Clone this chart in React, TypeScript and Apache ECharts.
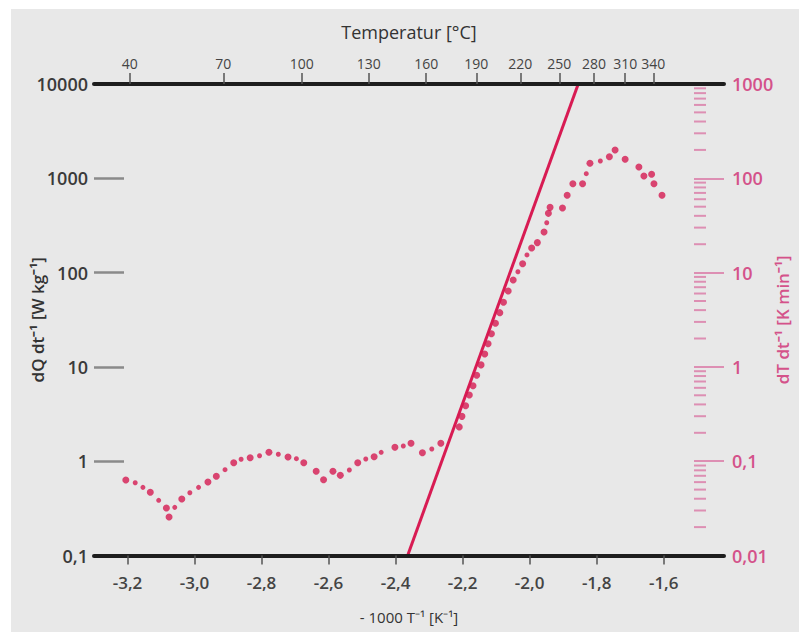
import React, { useEffect, useRef } from "react";
import * as echarts from "echarts";

// -1000/T [1/K] and dQ/dt [W/kg] – larger measurement dots
const largeX = [-3.205, -3.132, -3.084, -3.076, -3.038, -2.960, -2.935, -2.883, -2.834, -2.778, -2.721, -2.674, -2.637, -2.615, -2.587, -2.565, -2.513, -2.464, -2.402, -2.354, -2.320, -2.265, -2.210, -2.202, -2.191, -2.180, -2.169, -2.158, -2.145, -2.134, -2.124, -2.114, -2.102, -2.089, -2.078, -2.064, -2.049, -2.021, -1.994, -1.977, -1.957, -1.944, -1.939, -1.902, -1.888, -1.871, -1.842, -1.820, -1.762, -1.745, -1.715, -1.674, -1.659, -1.636, -1.629, -1.605];
const largeY = [0.632, 0.468, 0.319, 0.256, 0.397, 0.601, 0.692, 0.964, 1.089, 1.243, 1.108, 0.964, 0.782, 0.637, 0.782, 0.708, 0.964, 1.116, 1.404, 1.549, 1.231, 1.549, 2.31, 2.99, 3.87, 5.03, 6.32, 8.15, 10.5, 13.7, 17.6, 22.5, 29.0, 37.6, 48.4, 63.8, 83.5, 124, 182, 208, 270, 425, 492, 484, 661, 877, 876, 1446, 1690, 1995, 1590, 1318, 1058, 1105, 876, 661];

// smaller measurement dots
const smallX = [-3.177, -3.154, -3.107, -3.059, -3.014, -2.988, -2.909, -2.861, -2.806, -2.750, -2.696, -2.538, -2.489, -2.443, -2.377, -2.292, -2.035, -2.008, -1.949, -1.831, -1.789];
const smallY = [0.591, 0.528, 0.385, 0.324, 0.463, 0.528, 0.813, 1.048, 1.143, 1.184, 1.064, 0.807, 1.055, 1.243, 1.449, 1.347, 102, 154, 338, 1119, 1525];

// straight line (Arrhenius fit)
const lineX = [-2.364, -1.855];
const lineY = [0.1, 10000];

// axes
const xMin = -3.3;
const xMax = -1.42;
const bottomTicks = [-3.2, -3.0, -2.8, -2.6, -2.4, -2.2, -2.0, -1.8, -1.6];
const temperatures = [40, 70, 100, 130, 160, 190, 220, 250, 280, 310, 340];
const leftMin = 0.1;
const leftMax = 10000;
const rightMin = 0.01;
const rightMax = 1000;
const minorMantissas = [2, 3, 4, 5, 6, 7, 8, 9];
const rightDecades = [0.01, 0.1, 1, 10, 100];

const DOT = "#d41a51";
const PINK_LABEL = "#d4528a";
const PINK_TICK = "#dd8fb3";
const FONT = "Open Sans";

const fmtNum = (v: number) => String(Number(v.toPrecision(6))).replace(".", ",");

export default function App() {
  const ref = useRef<HTMLDivElement>(null);
  useEffect(() => {
    if (!ref.current) return;
    const chart = echarts.init(ref.current, undefined, { renderer: "svg" });
    const tempPos = temperatures.map((t) => -1000 / (t + 273.15));
    const minorVals: number[] = [];
    rightDecades.forEach((d) => minorMantissas.forEach((m) => minorVals.push(Number((m * d).toPrecision(6)))));

    chart.setOption({
      animation: false,
      backgroundColor: "#ffffff",
      textStyle: { fontFamily: FONT },
      graphic: [
        {
          type: "rect",
          z: -100,
          silent: true,
          shape: { x: 11, y: 9, width: 788, height: 623 },
          style: { fill: "#e8e8e8" },
        },
      ],
      grid: { left: 94, right: 67, top: 84, bottom: 76.5, containLabel: false },
      xAxis: [
        {
          type: "value",
          position: "bottom",
          min: xMin,
          max: xMax,
          z: 5,
          axisLine: { show: true, lineStyle: { color: "#1e1e1e", width: 4 } },
          axisTick: { show: true, customValues: bottomTicks, length: 9, lineStyle: { color: "#555", width: 1.5 } },
          axisLabel: {
            customValues: bottomTicks,
            formatter: (v: number) => v.toFixed(1).replace(".", ","),
            margin: 18,
            fontSize: 17,
            fontWeight: 600,
            color: "#444",
          },
          splitLine: { show: false },
          name: "- 1000 T⁻¹ [K⁻¹]",
          nameLocation: "middle",
          nameGap: 54,
          nameMoveOverlap: false,
          nameTextStyle: { fontSize: 15, color: "#333" },
        },
        {
          type: "value",
          position: "top",
          min: xMin,
          max: xMax,
          z: 5,
          axisLine: { show: true, lineStyle: { color: "#1e1e1e", width: 4 } },
          axisTick: { show: true, customValues: tempPos, length: 11, lineStyle: { color: "#555", width: 1.5 } },
          axisLabel: {
            customValues: tempPos,
            formatter: (v: number) => String(Math.round(-1000 / v - 273.15)),
            margin: 14,
            fontSize: 14,
            color: "#444",
          },
          splitLine: { show: false },
          name: "Temperatur [°C]",
          nameLocation: "middle",
          nameGap: 43,
          nameMoveOverlap: false,
          nameTextStyle: { fontSize: 18, color: "#333" },
        },
      ],
      yAxis: [
        {
          type: "log",
          logBase: 10,
          position: "left",
          min: leftMin,
          max: leftMax,
          axisLine: { show: false },
          axisTick: { show: true, inside: true, length: 30, lineStyle: { color: "#8a8a8a", width: 2.5 } },
          axisLabel: { margin: 6, formatter: fmtNum, fontSize: 18, fontWeight: 600, color: "#3a3a3a" },
          splitLine: { show: false },
          minorTick: { show: false },
          name: "dQ dt⁻¹ [W kg⁻¹]",
          nameLocation: "middle",
          nameGap: 48,
          nameRotate: 90,
          nameMoveOverlap: false,
          nameTextStyle: { fontSize: 17, fontWeight: 600, color: "#333" },
        },
        {
          type: "log",
          logBase: 10,
          position: "right",
          min: rightMin,
          max: rightMax,
          axisLine: { show: false },
          axisTick: { show: true, inside: true, length: 30, lineStyle: { color: PINK_TICK, width: 2 } },
          axisLabel: { margin: 8, formatter: fmtNum, fontSize: 18, fontWeight: 600, color: PINK_LABEL },
          splitLine: { show: false },
          minorTick: { show: false },
          name: "dT dt⁻¹ [K min⁻¹]",
          nameLocation: "middle",
          nameGap: 50,
          nameRotate: 90,
          nameMoveOverlap: false,
          nameTextStyle: { fontSize: 17, fontWeight: 600, color: PINK_LABEL },
        },
      ],
      series: [
        {
          type: "custom",
          name: "minorTicks",
          xAxisIndex: 0,
          yAxisIndex: 1,
          silent: true,
          clip: false,
          encode: { x: 0, y: 1 },
          data: minorVals.map((v) => [xMax, v]),
          renderItem: (_p: any, api: any) => {
            const pt = api.coord([api.value(0), api.value(1)]);
            return {
              type: "line",
              shape: { x1: pt[0] - 30, y1: pt[1], x2: pt[0] - 18, y2: pt[1] },
              style: { stroke: PINK_TICK, lineWidth: 2 },
            };
          },
        },
        {
          type: "line",
          xAxisIndex: 0,
          yAxisIndex: 0,
          data: lineX.map((x, i) => [x, lineY[i]]),
          symbol: "none",
          lineStyle: { color: "#d81b53", width: 3 },
          z: 3,
        },
        {
          type: "scatter",
          xAxisIndex: 0,
          yAxisIndex: 0,
          data: largeX.map((x, i) => [x, largeY[i]]),
          symbolSize: 7,
          itemStyle: { color: DOT },
          z: 4,
        },
        {
          type: "scatter",
          xAxisIndex: 0,
          yAxisIndex: 0,
          data: smallX.map((x, i) => [x, smallY[i]]),
          symbolSize: 5,
          itemStyle: { color: DOT },
          z: 4,
        },
      ],
    });
    return () => chart.dispose();
  }, []);

  return (
    <div style={{ position: "absolute", left: 0, top: 0, width: 799, height: 632, background: "#fff" }}>
      <div ref={ref} style={{ width: 799, height: 632 }} />
    </div>
  );
}
